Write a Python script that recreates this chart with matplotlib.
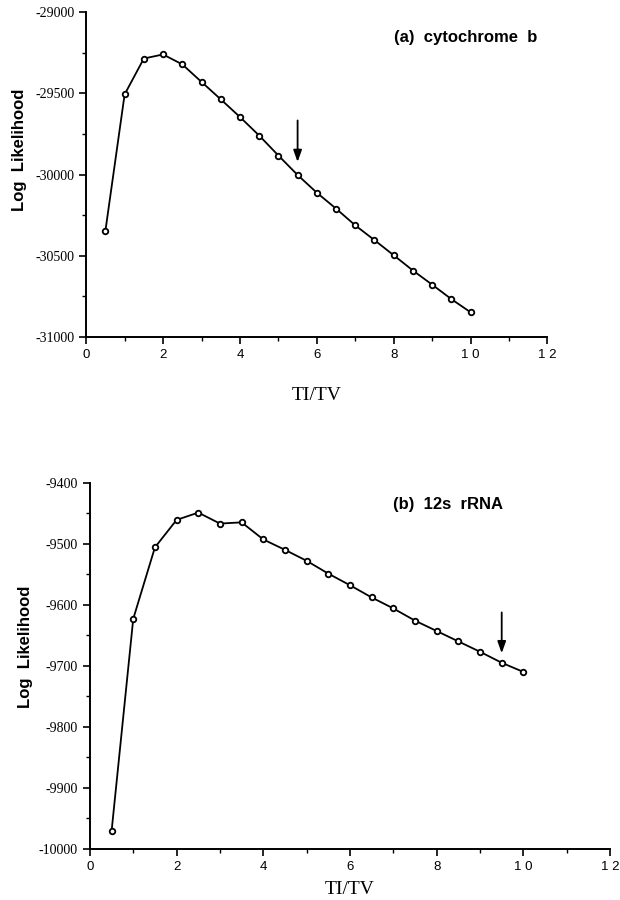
import matplotlib
matplotlib.use("Agg")
import matplotlib.pyplot as plt
from matplotlib.ticker import MultipleLocator

# TI/TV ratios tried
ratio = [0.5, 1.0, 1.5, 2.0, 2.5, 3.0, 3.5, 4.0, 4.5, 5.0,
         5.5, 6.0, 6.5, 7.0, 7.5, 8.0, 8.5, 9.0, 9.5, 10.0]

# log likelihoods
cytb = [-30347, -29507, -29286, -29261, -29322, -29430, -29537, -29646, -29760, -29883,
        -30003, -30112, -30210, -30313, -30404, -30497, -30591, -30678, -30767, -30848]
rrna = [-9971, -9623, -9506, -9461, -9449, -9467, -9465, -9493, -9510, -9528,
        -9549, -9568, -9588, -9606, -9626, -9643, -9660, -9677, -9695, -9710]

# arrows mark the chosen ratio
cytb_arrow = (5.5, -29650, -29940)
rrna_arrow = (9.5, -9608, -9684)

fig = plt.figure(figsize=(6.2, 9), dpi=100)
ax1 = fig.add_axes([0.139, 0.6256, 0.744, 0.361])
ax2 = fig.add_axes([0.145, 0.0567, 0.839, 0.407])


def style(ax, ylo, yhi, ymaj, ymin, title, tx, ty, xl_y, yl_x, yl_y):
    ax.set_xlim(0, 12)
    ax.set_ylim(ylo, yhi)
    ax.xaxis.set_major_locator(MultipleLocator(2))
    ax.xaxis.set_minor_locator(MultipleLocator(1))
    ax.yaxis.set_major_locator(MultipleLocator(ymaj))
    ax.yaxis.set_minor_locator(MultipleLocator(ymin))
    for s in ["top", "right"]:
        ax.spines[s].set_visible(False)
    for s in ["left", "bottom"]:
        ax.spines[s].set_linewidth(1.4)
    ax.tick_params(which="major", direction="out", length=5, width=1.2)
    ax.tick_params(which="minor", direction="out", length=3, width=1.0)
    ax.set_xticks(range(0, 13, 2))
    ax.set_xticklabels(["0", "2", "4", "6", "8", "1 0", "1 2"],
                       family="Liberation Sans", fontsize=9.5)
    ax.set_yticks(ax.get_yticks())
    ax.set_yticklabels([str(int(v)) for v in ax.get_yticks()],
                       family="Liberation Serif", fontsize=10)
    ax.set_ylim(ylo, yhi)
    ax.text(tx, ty, title, transform=ax.transAxes, family="Liberation Sans",
            fontweight="bold", fontsize=12, va="center", ha="left")
    ax.set_xlabel("TI/TV", family="Liberation Serif", fontsize=14)
    ax.xaxis.set_label_coords(0.5, xl_y)
    ax.set_ylabel("Log  Likelihood", family="Liberation Sans",
                  fontweight="bold", fontsize=12)
    ax.yaxis.set_label_coords(yl_x, yl_y)


ax1.plot(ratio, cytb, color="black", lw=1.3, marker="o", ms=4,
         mfc="white", mec="black", mew=1.3, clip_on=False)
ax2.plot(ratio, rrna, color="black", lw=1.3, marker="o", ms=4,
         mfc="white", mec="black", mew=1.3, clip_on=False)

style(ax1, -31000, -29000, 500, 250, "(a)  cytochrome  b", 0.668, 0.923,
      -0.155, -0.128, 0.575)
style(ax2, -10000, -9400, 100, 50, "(b)  12s  rRNA", 0.583, 0.94,
      -0.088, -0.11, 0.552)

for ax, (ax_x, y0, y1) in [(ax1, cytb_arrow), (ax2, rrna_arrow)]:
    ax.annotate("", xy=(ax_x, y1), xytext=(ax_x, y0),
                arrowprops=dict(arrowstyle="-|>,head_length=0.7,head_width=0.25",
                                color="black", lw=1.3))

fig.savefig("out.png", dpi=100)
